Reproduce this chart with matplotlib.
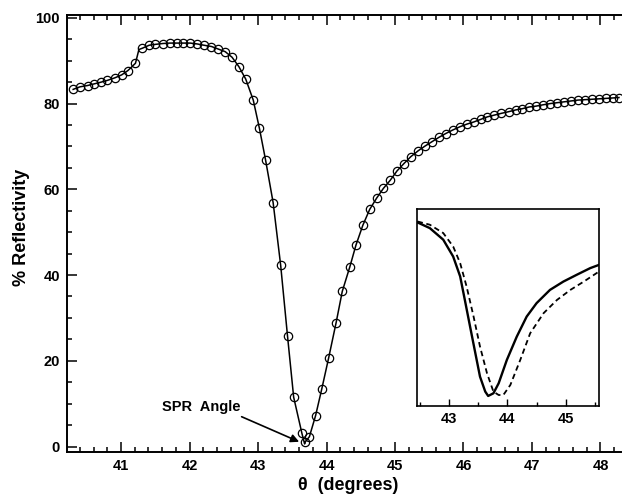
import matplotlib
matplotlib.use("Agg")
import matplotlib.pyplot as plt
from matplotlib.ticker import MultipleLocator

plt.rcParams['font.family'] = ['Liberation Sans', 'DejaVu Sans']
plt.rcParams['font.weight'] = 'bold'

# measured reflectivity (circles)
theta_meas = [40.30, 40.40, 40.51, 40.61, 40.71, 40.80, 40.91, 41.01, 41.10, 41.21,
              41.31, 41.41, 41.50, 41.61, 41.71, 41.81, 41.91, 42.01, 42.11, 42.21,
              42.32, 42.42, 42.52, 42.62, 42.72, 42.82, 42.93, 43.02, 43.11, 43.22,
              43.33, 43.43, 43.52, 43.64, 43.69, 43.75, 43.84, 43.93, 44.03, 44.14,
              44.23, 44.34, 44.43, 44.53, 44.63, 44.73, 44.83, 44.93, 45.03, 45.13,
              45.23, 45.34, 45.44, 45.54, 45.64, 45.74, 45.84, 45.95, 46.05, 46.15,
              46.25, 46.35, 46.45, 46.55, 46.66, 46.76, 46.86, 46.96, 47.06, 47.16,
              47.27, 47.37, 47.47, 47.57, 47.67, 47.77, 47.88, 47.98, 48.08, 48.18,
              48.27]
refl_meas = [83.3, 83.9, 84.2, 84.6, 85.0, 85.4, 86.0, 86.7, 87.7, 89.4,
             92.9, 93.6, 93.8, 94.0, 94.1, 94.1, 94.1, 94.1, 93.9, 93.6,
             93.3, 92.7, 92.1, 90.8, 88.6, 85.7, 80.8, 74.2, 66.8, 56.9,
             42.3, 25.8, 11.5, 3.1, 1.1, 2.3, 7.2, 13.4, 20.6, 28.9,
             36.2, 41.9, 47.0, 51.6, 55.3, 57.9, 60.2, 62.1, 64.3, 66.0,
             67.6, 69.0, 70.1, 71.1, 72.1, 73.0, 73.8, 74.6, 75.2, 75.7,
             76.3, 76.9, 77.3, 77.7, 78.1, 78.5, 78.8, 79.2, 79.4, 79.7,
             80.0, 80.2, 80.4, 80.6, 80.8, 80.9, 81.0, 81.1, 81.2, 81.3,
             81.4]

# extra points on the fitted curve (critical angle kink and SPR minimum)
theta_fit_extra = [41.26, 43.68]
refl_fit_extra = [92.6, 0.6]

# inset: solid and dashed curves
inset_theta_solid = [42.46, 42.67, 42.90, 43.07, 43.19, 43.27, 43.36, 43.45, 43.53, 43.62,
                     43.67, 43.76, 43.85, 43.99, 44.16, 44.33, 44.50, 44.73, 44.96, 45.19,
                     45.42, 45.57]
inset_refl_solid = [92.9, 89.9, 83.8, 74.9, 64.4, 52.0, 37.9, 23.9, 11.5, 3.6,
                    1.3, 2.7, 8.0, 20.3, 32.6, 43.2, 50.3, 57.3, 61.7, 65.3,
                    68.8, 70.5]
inset_theta_dash = [42.46, 42.67, 42.90, 43.07, 43.19, 43.30, 43.42, 43.53, 43.65, 43.76,
                    43.85, 43.93, 44.05, 44.22, 44.39, 44.62, 44.85, 45.08, 45.31, 45.57]
inset_refl_dash = [93.4, 91.7, 87.3, 80.2, 71.4, 59.1, 43.2, 27.4, 13.3, 3.6,
                   1.8, 1.8, 7.1, 20.3, 34.4, 45.0, 52.0, 57.3, 61.7, 67.0]

fit_pts = sorted(zip(theta_meas + theta_fit_extra, refl_meas + refl_fit_extra))
theta_fit = [p[0] for p in fit_pts]
refl_fit = [p[1] for p in fit_pts]

fig = plt.figure(figsize=(6.22, 4.96), dpi=100)
W, H = 622, 496
ax = fig.add_axes([67 / W, (H - 452) / H, (621 - 67) / W, (452 - 15) / H])

ax.plot(theta_fit, refl_fit, color='black', lw=1.1, zorder=2)
ax.plot(theta_meas, refl_meas, 'o', mfc='none', mec='black', ms=6, mew=0.9,
        zorder=3, clip_on=False)

ax.set_xlim(40.21, 48.30)
ax.set_ylim(-1.28, 100.65)
ax.xaxis.set_major_locator(MultipleLocator(1))
ax.xaxis.set_minor_locator(MultipleLocator(0.2))
ax.yaxis.set_major_locator(MultipleLocator(20))
ax.yaxis.set_minor_locator(MultipleLocator(5))
ax.tick_params(which='both', direction='in', top=True, right=False, width=1.1)
ax.tick_params(which='major', length=7, labelsize=10.5, pad=5)
ax.tick_params(which='minor', length=3.5)
ax.spines['right'].set_visible(False)
for s in ['left', 'bottom', 'top']:
    ax.spines[s].set_linewidth(1.4)

ax.set_ylabel('% Reflectivity', fontsize=13, fontweight='bold')
ax.yaxis.set_label_coords(-0.067, 0.515)
ax.set_xlabel('\u03b8  (degrees)', fontsize=13, fontweight='bold')
ax.xaxis.set_label_coords(0.507, -0.058)

ax.annotate('', xy=(43.60, 1.1), xytext=(42.76, 6.95),
            arrowprops=dict(arrowstyle='-|>', color='black', lw=1.2,
                            mutation_scale=12, shrinkA=0, shrinkB=0))
ax.text(41.59, 9.1, 'SPR  Angle', fontsize=10.5, fontweight='bold',
        ha='left', va='center')

# inset
axi = fig.add_axes([417 / W, (H - 406) / H, (599 - 417) / W, (406 - 209) / H])
axi.plot(inset_theta_solid, inset_refl_solid, color='black', lw=1.7)
axi.plot(inset_theta_dash, inset_refl_dash, color='black', lw=1.3, ls=(0, (3, 2)))
axi.set_xlim(42.45, 45.57)
axi.set_ylim(-4, 100)
axi.xaxis.set_major_locator(MultipleLocator(1))
axi.xaxis.set_minor_locator(MultipleLocator(0.5))
axi.set_yticks([])
axi.tick_params(which='both', direction='in', width=1.0)
axi.tick_params(which='major', length=5, labelsize=10.5, pad=4)
axi.tick_params(which='minor', length=3)
for s in axi.spines.values():
    s.set_linewidth(1.2)

fig.savefig('out.png', dpi=100)
